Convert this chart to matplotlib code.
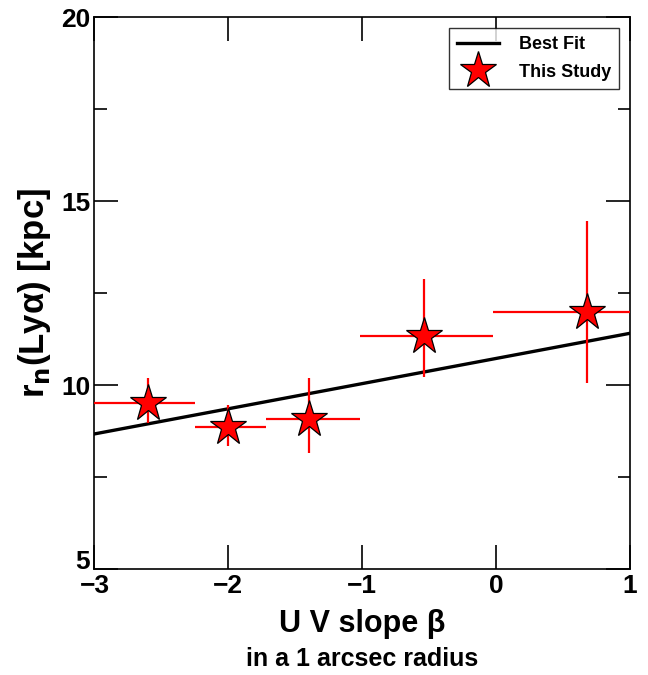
import numpy as np
import matplotlib
matplotlib.use("Agg")
import matplotlib.pyplot as plt

plt.rcParams['font.family'] = ['Liberation Sans', 'DejaVu Sans']
plt.rcParams['font.weight'] = 'bold'

# UV slope bins and Lya halo scale length
beta = [-2.60, -2.00, -1.40, -0.54, 0.68]
beta_lo = [0.40, 0.25, 0.32, 0.48, 0.70]
beta_hi = [0.35, 0.28, 0.38, 0.52, 0.32]
rn = [9.51, 8.88, 9.08, 11.34, 11.98]
rn_lo = [0.54, 0.53, 0.91, 1.12, 1.91]
rn_hi = [0.68, 0.59, 1.11, 1.56, 2.48]

# best fit line parameters
fit_slope = 0.683
fit_icpt = 10.73

x_ticks = [-3, -2, -1, 0, 1]
x_labels = ['\u22123', '\u22122', '\u22121', '0', '1']
y_ticks = [5, 10, 15, 20]
y_labels = ['5', '10', '15', '20']

fig = plt.figure(figsize=(6.48, 6.75), dpi=100)
ax = fig.add_axes([0.1458, 0.1563, 0.8264, 0.8185])

xfit = np.array([-3, 1])
ax.plot(xfit, fit_slope * xfit + fit_icpt, color='black', lw=2.4, label='Best Fit', zorder=2)

ax.errorbar(beta, rn, xerr=[beta_lo, beta_hi], yerr=[rn_lo, rn_hi],
            fmt='none', ecolor='red', elinewidth=1.6, capsize=0, zorder=3)
ax.plot(beta, rn, linestyle='none', marker='*', markersize=28, color='red',
        markeredgecolor='black', markeredgewidth=0.9, label='This Study', zorder=4)

ax.set_xlim(-3, 1)
ax.set_ylim(5, 20)
ax.set_xticks(x_ticks)
ax.set_xticklabels(x_labels)
ax.set_yticks(y_ticks)
ax.set_yticklabels(y_labels)
ax.set_yticks([7.5, 12.5, 17.5], minor=True)
# lowest y label sits just above the corner, like the original
for lbl in ax.get_yticklabels():
    if lbl.get_text() == '5':
        lbl.set_verticalalignment('baseline')

ax.tick_params(which='both', direction='in', top=True, right=True, width=1.2, labelsize=19, pad=3)
ax.tick_params(which='major', length=17)
ax.tick_params(which='minor', length=9)
for s in ax.spines.values():
    s.set_linewidth(1.2)

ax.set_xlabel('U V slope \u03b2', fontsize=22, fontweight='bold', labelpad=8)
fig.text(0.5 * (0.1458 + 0.9722), 0.014, 'in a 1 arcsec radius', ha='center',
         fontsize=18, fontweight='bold')
ax.set_ylabel('r$_\\mathbf{n}$(Ly\u03b1) [kpc]', fontsize=25, fontweight='bold', labelpad=6)

leg = ax.legend(loc='upper right', fontsize=13, frameon=True, fancybox=False,
                edgecolor='black', borderaxespad=0.6, handlelength=2.3, markerscale=1.0,
                labelspacing=0.6, borderpad=0.45, handletextpad=1.1)
leg.get_frame().set_linewidth(1.0)
for t in leg.get_texts():
    t.set_fontweight('bold')

plt.savefig("out.png", dpi=100)
